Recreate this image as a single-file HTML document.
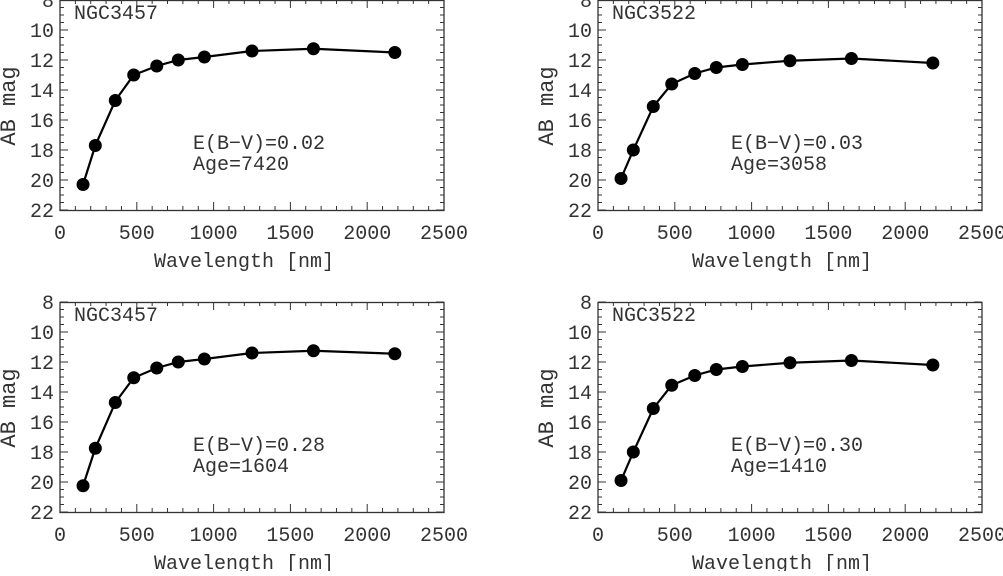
<!DOCTYPE html>
<html><head><meta charset="utf-8"><style>
body{margin:0;background:#fff;width:1003px;height:571px;overflow:hidden}
svg text{font-family:"Liberation Mono",monospace;fill:#333}
</style></head><body>
<svg id="chart" width="1003" height="571" viewBox="0 0 1003 571" xmlns="http://www.w3.org/2000/svg"></svg>
<script>
const wavelengths=[150,230,360,480,630,770,940,1250,1650,2180];
const magsA=[20.3,17.7,14.7,13.0,12.4,12.0,11.8,11.4,11.25,11.5];
const magsB=[19.9,18.0,15.1,13.6,12.9,12.5,12.3,12.05,11.9,12.2];
const magsC=[20.25,17.75,14.7,13.05,12.4,12.0,11.8,11.4,11.25,11.45];
const magsD=[19.9,18.0,15.1,13.55,12.9,12.5,12.3,12.05,11.9,12.2];
const xTicks=[0,500,1000,1500,2000,2500];
const yTicks=[8,10,12,14,16,18,20,22];
const panels=[
 {name:"NGC3457",ebv:"0.02",age:"7420",mags:magsA,x0:60,y0:0},
 {name:"NGC3522",ebv:"0.03",age:"3058",mags:magsB,x0:598,y0:0},
 {name:"NGC3457",ebv:"0.28",age:"1604",mags:magsC,x0:60,y0:302},
 {name:"NGC3522",ebv:"0.30",age:"1410",mags:magsD,x0:598,y0:302}];
const svg=document.getElementById('chart');
const NS="http://www.w3.org/2000/svg";
function mk(t,a,p){const e=document.createElementNS(NS,t);for(const k in a)e.setAttribute(k,a[k]);(p||svg).appendChild(e);return e;}
const W=384,H=210,XMAX=2500,YMIN=8,YMAX=22;
panels.forEach((p,i)=>{
 const g=mk('g',{});
 
 
 const sx=v=>p.x0+v/XMAX*W, sy=v=>p.y0+(v-YMIN)/(YMAX-YMIN)*H;
 const f=mk('rect',{x:p.x0,y:p.y0+0.5,width:W,height:H,fill:'none',stroke:'#333','stroke-width':1.3},g);
 
 
 for(let v=0;v<=XMAX;v+=100){const L=v%500===0?8:4;
  mk('line',{x1:sx(v),x2:sx(v),y1:p.y0+H,y2:p.y0+H-L,stroke:'#333'},g);
  mk('line',{x1:sx(v),x2:sx(v),y1:p.y0,y2:p.y0+L,stroke:'#333'},g);}
 for(let v=YMIN;v<=YMAX;v+=0.5){const L=v%2===0?8:4;
  mk('line',{x1:p.x0,x2:p.x0+L,y1:sy(v),y2:sy(v),stroke:'#333'},g);
  mk('line',{x1:p.x0+W,x2:p.x0+W-L,y1:sy(v),y2:sy(v),stroke:'#333'},g);}
 xTicks.forEach(v=>{const t=mk('text',{x:sx(v),y:p.y0+H+29,'font-size':20,'text-anchor':'middle'},g);t.textContent=v;
  });
 yTicks.forEach(v=>{const t=mk('text',{x:p.x0-6,y:sy(v)+7,'font-size':20,'text-anchor':'end'},g);t.textContent=v;
  });
 const xt=mk('text',{x:p.x0+W/2-8,y:p.y0+H+57,'font-size':20,'text-anchor':'middle'},g);xt.textContent='Wavelength [nm]';
 
 const yt=mk('text',{x:0,y:0,'font-size':22,'text-anchor':'middle',transform:`translate(${p.x0-45},${p.y0+106}) rotate(-90)`},g);yt.textContent='AB mag';
 
 const nm=mk('text',{x:p.x0+14,y:p.y0+19,'font-size':20},g);nm.textContent=p.name;
 
 const a1=mk('text',{x:p.x0+133,y:p.y0+149,'font-size':20},g);a1.textContent='E(B\u2212V)='+p.ebv;
 
 const a2=mk('text',{x:p.x0+133,y:p.y0+170,'font-size':20},g);a2.textContent='Age='+p.age;
 
 const pts=wavelengths.map((w,j)=>sx(w)+','+sy(p.mags[j])).join(' ');
 const ln=mk('polyline',{points:pts,fill:'none',stroke:'#000','stroke-width':2.2},g);
 
 wavelengths.forEach((w,j)=>{const c=mk('circle',{cx:sx(w),cy:sy(p.mags[j]),r:6.5,fill:'#000'},g);
  });
});
</script>
</body></html>
